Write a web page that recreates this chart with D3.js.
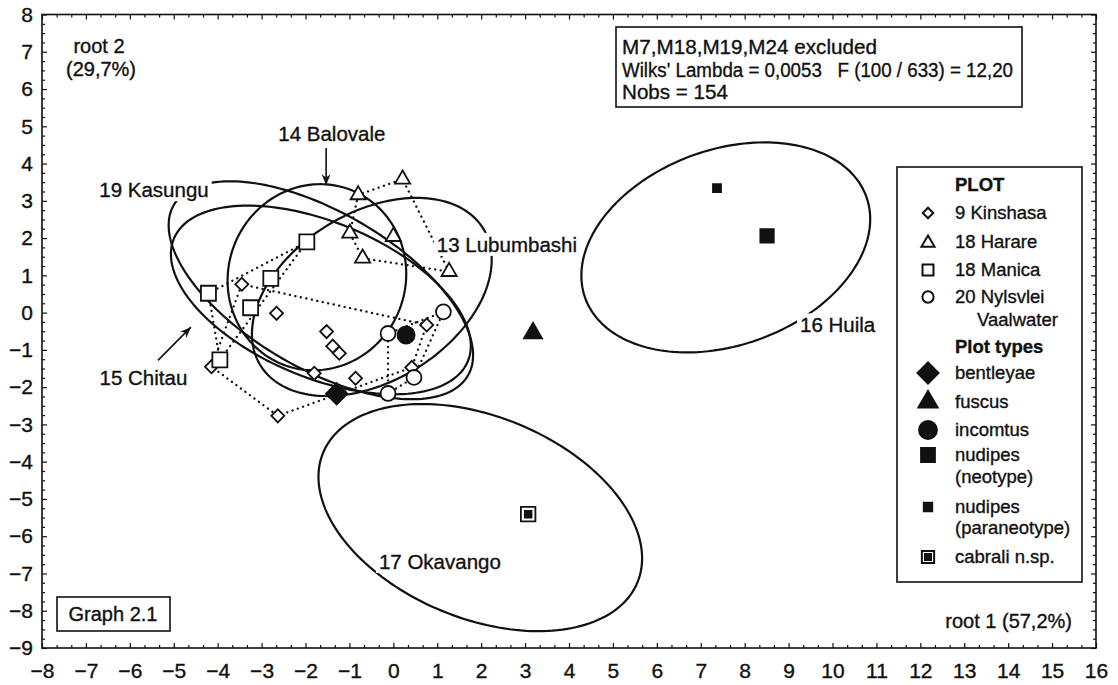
<!DOCTYPE html>
<html><head><meta charset="utf-8">
<script src="https://cdn.jsdelivr.net/npm/d3@7"></script>
<style>
body{margin:0;background:#fff}
svg{display:block}
text{font-family:"Liberation Sans",Arial,sans-serif;fill:#111;stroke:#111;stroke-width:0.35px;white-space:pre}
</style>
</head><body>
<svg id="c" width="1118" height="685"></svg>
<script>
// ---------------- data ----------------
const xTickValues = [-8,-7,-6,-5,-4,-3,-2,-1,0,1,2,3,4,5,6,7,8,9,10,11,12,13,14,15,16];
const yTickValues = [-9,-8,-7,-6,-5,-4,-3,-2,-1,0,1,2,3,4,5,6,7,8];

const kinshasa = [[-3.45,0.76],[-2.66,-0.02],[-1.52,-0.51],[-1.38,-0.90],[-1.23,-1.09],[-1.80,-1.63],[-0.86,-1.76],[0.76,-0.33],[0.42,-1.47],[-4.14,-1.45],[-2.63,-2.77]];
const harare   = [[-0.80,3.16],[0.21,3.58],[-0.99,2.13],[0.00,2.04],[-0.70,1.46],[1.27,1.10]];
const manica   = [[-4.21,0.52],[-3.25,0.13],[-2.79,0.92],[-1.97,1.90],[-3.95,-1.27]];
const nylsvlei = [[1.14,0.02],[-0.12,-0.56],[0.47,-1.74],[-0.12,-2.17]];

const bentleyae   = [-1.29,-2.18];
const fuscus      = [3.18,-0.55];
const incomtus    = [0.29,-0.60];
const nudipesNeo  = [8.51,2.06];
const nudipesPara = [7.37,3.34];
const cabrali     = [3.07,-5.41];

// confidence ellipses: centre, semi-axes, rotation (deg, data space)
const ellipseNames  = ["19 Kasungu","15 Chitau","14 Balovale","13 Lubumbashi","16 Huila","17 Okavango"];
const ellipseCx     = [-1.65,-1.65,-1.74,-0.49, 7.57, 1.98];
const ellipseCy     = [ 0.60, 0.34, 0.95, 0.42, 1.75,-5.50];
const ellipseA      = [ 4.07, 3.74, 2.50, 3.16, 3.50, 4.00];
const ellipseB      = [ 2.00, 2.02, 2.03, 2.13, 2.55, 2.62];
const ellipseAngle  = [-37,  -29,   85,   43,   30,  -31];

const legendPlot  = ["9 Kinshasa","18 Harare","18 Manica","20 Nylsvlei","Vaalwater"];
const legendTypes = ["bentleyae","fuscus","incomtus","nudipes","(neotype)","nudipes","(paraneotype)","cabrali n.sp."];
const infoLines = ["M7,M18,M19,M24 excluded","Wilks' Lambda = 0,0053   F (100 / 633) = 12,20","Nobs = 154"];

// ---------------- layout ----------------
const svg = d3.select("#c");
const L=42, R=1096, T=14.5, B=648;
const x = d3.scaleLinear().domain([-8,16]).range([L,R]);
const y = d3.scaleLinear().domain([-9,8]).range([B,T]);

// frame & axes
const gAx = svg.append("g");
function axis(gen, tr, vals, size, labels){
  const g = gAx.append("g").attr("transform",tr)
    .call(gen.tickValues(vals).tickSize(size).tickPadding(labels?labels:0).tickFormat(labels?d3.format("d"):""));
  g.select(".domain").remove();
  g.selectAll("line").attr("stroke","#111").attr("stroke-width",1.2);
  return g;
}
const xMinor = d3.range(-8,16.001,1/3).filter(v=>Math.abs(v-Math.round(v))>1e-6);
const yMinor = d3.range(-9,8.001,0.25).filter(v=>Math.abs(v-Math.round(v))>1e-6);
axis(d3.axisBottom(x), `translate(0,${B})`, xTickValues, -5, 15);
axis(d3.axisBottom(x), `translate(0,${B})`, xMinor, -3);
axis(d3.axisTop(x), `translate(0,${T})`, xTickValues, -5);
axis(d3.axisTop(x), `translate(0,${T})`, xMinor, -3);
axis(d3.axisLeft(y), `translate(${L},0)`, yTickValues, -5, 9);
axis(d3.axisLeft(y), `translate(${L},0)`, yMinor, -3);
axis(d3.axisRight(y), `translate(${R},0)`, yTickValues, -5);
axis(d3.axisRight(y), `translate(${R},0)`, yMinor, -3);
gAx.selectAll("text").attr("font-family","'Liberation Sans',Arial,sans-serif").attr("font-size",21).attr("fill","#111");

svg.append("rect").attr("x",L).attr("y",T).attr("width",R-L).attr("height",B-T)
  .attr("fill","none").attr("stroke","#111").attr("stroke-width",1.6);

// ellipses
const gE = svg.append("g");
const line = d3.line().curve(d3.curveLinearClosed);
ellipseNames.forEach((n,i)=>{
  const th = ellipseAngle[i]*Math.PI/180, pts=[];
  for(let k=0;k<180;k++){
    const t = k/180*2*Math.PI;
    const ex = ellipseCx[i] + ellipseA[i]*Math.cos(t)*Math.cos(th) - ellipseB[i]*Math.sin(t)*Math.sin(th);
    const ey = ellipseCy[i] + ellipseA[i]*Math.cos(t)*Math.sin(th) + ellipseB[i]*Math.sin(t)*Math.cos(th);
    pts.push([x(ex),y(ey)]);
  }
  gE.append("path").attr("d",line(pts)).attr("fill","none").attr("stroke","#111").attr("stroke-width",2.2);
});

// group hulls (dotted)
const gH = svg.append("g");
[kinshasa,harare,manica,nylsvlei].forEach(grp=>{
  const hull = d3.polygonHull(grp.map(d=>[x(d[0]),y(d[1])]));
  gH.append("path").attr("d",line(hull)).attr("fill","none").attr("stroke","#111")
    .attr("stroke-width",2.3).attr("stroke-dasharray","0.1,5.5").attr("stroke-linecap","round");
});

// labels with white background
const gL = svg.append("g");
function label(txt, px, py, anchor, size){
  const t = gL.append("text").attr("x",px).attr("y",py).attr("text-anchor",anchor||"start")
    .attr("font-size",size||20.5).text(txt);
  const bb = t.node().getBBox();
  gL.insert("rect","text").attr("x",bb.x-3).attr("y",bb.y).attr("width",bb.width+6).attr("height",bb.height).attr("fill","#fff");
  return t;
}
label("19 Kasungu", x(-5.45), y(3.10), "middle");
label("13 Lubumbashi", x(0.99), y(1.63), "start");
label("14 Balovale", x(-1.40), y(4.60), "middle");
label("15 Chitau", x(-5.69), y(-1.95), "middle");
label("16 Huila", x(9.26), y(-0.53), "start");
label("17 Okavango", x(1.06), y(-6.88), "middle");

// arrows
const defs = svg.append("defs");
defs.append("marker").attr("id","ah").attr("viewBox","0 0 10 10").attr("refX",10).attr("refY",5)
  .attr("markerWidth",11).attr("markerHeight",11).attr("markerUnits","userSpaceOnUse").attr("orient","auto")
  .append("path").attr("d","M0,1 L10,5 L0,9 L3,5 Z").attr("fill","#111");
gL.append("line").attr("x1",x(-1.53)).attr("y1",y(4.42)).attr("x2",x(-1.53)).attr("y2",y(3.42))
  .attr("stroke","#111").attr("stroke-width",1.6).attr("marker-end","url(#ah)");
gL.append("line").attr("x1",x(-5.36)).attr("y1",y(-1.28)).attr("x2",x(-4.61)).attr("y2",y(-0.39))
  .attr("stroke","#111").attr("stroke-width",1.6).attr("marker-end","url(#ah)");

// points
const gP = svg.append("g");
const sym = (type,size)=>d3.symbol().type(type).size(size)();
function pts(data, type, size, rot, filled){
  gP.selectAll(null).data(data).join("path")
    .attr("d",sym(type,size))
    .attr("transform",d=>`translate(${x(d[0])},${y(d[1])}) rotate(${rot})`)
    .attr("fill",filled?"#111":"#fff").attr("stroke","#111").attr("stroke-width",1.8);
}
pts(kinshasa, d3.symbolSquare, 85, 45, false);
pts(harare, d3.symbolTriangle, 100, 0, false);
pts(manica, d3.symbolSquare, 225, 0, false);
pts(nylsvlei, d3.symbolCircle, 175, 0, false);
pts([bentleyae], d3.symbolSquare, 230, 45, true);
pts([fuscus], d3.symbolTriangle, 140, 0, true);
pts([incomtus], d3.symbolCircle, 230, 0, true);
pts([nudipesNeo], d3.symbolSquare, 180, 0, true);
pts([nudipesPara], d3.symbolSquare, 64, 0, true);
pts([cabrali], d3.symbolSquare, 210, 0, false);
pts([cabrali], d3.symbolSquare, 45, 0, true);

// root labels
svg.append("text").attr("x",99).attr("y",53).attr("text-anchor","middle").attr("font-size",20).text("root 2");
svg.append("text").attr("x",101).attr("y",76).attr("text-anchor","middle").attr("font-size",20).text("(29,7%)");
svg.append("text").attr("x",1072).attr("y",628).attr("text-anchor","end").attr("font-size",20).text("root 1 (57,2%)");

// Graph 2.1 box
svg.append("rect").attr("x",57).attr("y",597).attr("width",113).attr("height",34).attr("fill","#fff").attr("stroke","#111").attr("stroke-width",1.6);
svg.append("text").attr("x",113).attr("y",621).attr("text-anchor","middle").attr("font-size",20).text("Graph 2.1");

// info box
svg.append("rect").attr("x",616).attr("y",27).attr("width",406).attr("height",80).attr("fill","#fff").attr("stroke","#111").attr("stroke-width",1.6);
const infoWidths = [255,391,106];
infoLines.forEach((s,i)=>{
  svg.append("text").attr("x",622).attr("y",54+i*22.5).attr("font-size",20)
    .attr("textLength",infoWidths[i]).attr("lengthAdjust","spacingAndGlyphs").text(s);
});

// legend
const lg = svg.append("g");
lg.append("rect").attr("x",897).attr("y",167).attr("width",185).attr("height",415).attr("fill","#fff").attr("stroke","#111").attr("stroke-width",1.6);
const tx = 955, sx = 928;
lg.append("text").attr("x",tx).attr("y",191).attr("font-size",18.5).attr("font-weight","bold").text("PLOT");
const plotY = [219,248,276,303,326];
legendPlot.forEach((s,i)=>{
  lg.append("text").attr("x", i===4?977:tx).attr("y",plotY[i]).attr("font-size",18.5).text(s);
});
const lsym = (type,size,rot,cy,filled)=>lg.append("path").attr("d",sym(type,size))
  .attr("transform",`translate(${sx},${cy}) rotate(${rot})`).attr("fill",filled?"#111":"#fff").attr("stroke","#111").attr("stroke-width",2);
lsym(d3.symbolSquare,55,45,213,false);
lsym(d3.symbolTriangle,75,0,243,false);
lsym(d3.symbolSquare,120,0,270,false);
lsym(d3.symbolCircle,100,0,297,false);
lg.append("text").attr("x",tx).attr("y",353).attr("font-size",18.5).attr("font-weight","bold").text("Plot types");
const typeY = [379,408,436,461,483,513,534,563];
legendTypes.forEach((s,i)=>{
  lg.append("text").attr("x",tx).attr("y",typeY[i]).attr("font-size",18.5).text(s);
});
lsym(d3.symbolSquare,220,45,373,true);
lsym(d3.symbolTriangle,160,0,402,true);
lsym(d3.symbolCircle,250,0,430,true);
lsym(d3.symbolSquare,190,0,455,true);
lsym(d3.symbolSquare,70,0,507,true);
lsym(d3.symbolSquare,150,0,557,false);
lsym(d3.symbolSquare,36,0,557,true);
</script>
</body></html>
